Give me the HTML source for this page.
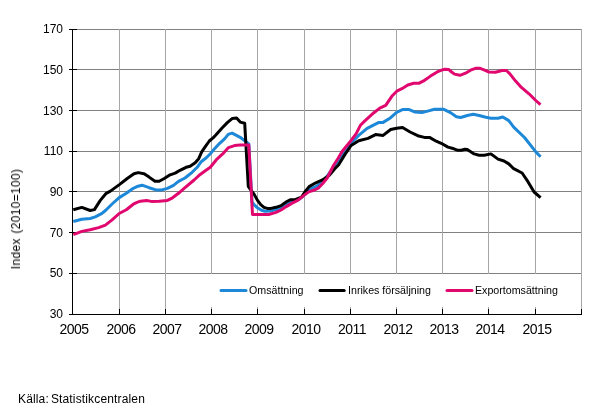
<!DOCTYPE html><html><head><meta charset="utf-8"><style>
html,body{margin:0;padding:0;background:#fff;}
#c{position:relative;width:605px;height:416px;overflow:hidden;background:#fff;font-family:"Liberation Sans",sans-serif;color:#000;}
.t{position:absolute;white-space:nowrap;line-height:1;will-change:transform;}
.yl{font-size:12px;width:40px;text-align:right;left:23px;}
.xl{font-size:14px;letter-spacing:-0.5px;width:60px;text-align:center;}
.lg{font-size:10.67px;}
</style></head><body><div id="c">
<svg width="605" height="416" viewBox="0 0 605 416" style="position:absolute;left:0;top:0">
<g shape-rendering="crispEdges" stroke="#808080" stroke-width="1" fill="none">
<line x1="72" y1="29.5" x2="582" y2="29.5"/>
<line x1="72" y1="69.5" x2="582" y2="69.5"/>
<line x1="72" y1="110.5" x2="582" y2="110.5"/>
<line x1="72" y1="151.5" x2="582" y2="151.5"/>
<line x1="72" y1="191.5" x2="582" y2="191.5"/>
<line x1="72" y1="232.5" x2="582" y2="232.5"/>
<line x1="72" y1="273.5" x2="582" y2="273.5"/>
<line stroke="#a6a6a8" x1="119.5" y1="29" x2="119.5" y2="314"/>
<line stroke="#a6a6a8" x1="165.5" y1="29" x2="165.5" y2="314"/>
<line stroke="#a6a6a8" x1="211.5" y1="29" x2="211.5" y2="314"/>
<line stroke="#a6a6a8" x1="257.5" y1="29" x2="257.5" y2="314"/>
<line stroke="#a6a6a8" x1="304.5" y1="29" x2="304.5" y2="314"/>
<line stroke="#a6a6a8" x1="350.5" y1="29" x2="350.5" y2="314"/>
<line stroke="#a6a6a8" x1="396.5" y1="29" x2="396.5" y2="314"/>
<line stroke="#a6a6a8" x1="442.5" y1="29" x2="442.5" y2="314"/>
<line stroke="#a6a6a8" x1="488.5" y1="29" x2="488.5" y2="314"/>
<line stroke="#a6a6a8" x1="535.5" y1="29" x2="535.5" y2="314"/>
<line stroke="#a6a6a8" x1="581.5" y1="29" x2="581.5" y2="314"/>
</g>
<rect x="200" y="274" width="372" height="33" fill="#fff" shape-rendering="crispEdges"/>
<g shape-rendering="crispEdges" stroke="#000" stroke-width="1" fill="none">
<line x1="72.5" y1="29" x2="72.5" y2="315"/>
<line x1="69" y1="314.5" x2="582" y2="314.5"/>
<line x1="69" y1="29.5" x2="77" y2="29.5"/>
<line x1="69" y1="69.5" x2="77" y2="69.5"/>
<line x1="69" y1="110.5" x2="77" y2="110.5"/>
<line x1="69" y1="151.5" x2="77" y2="151.5"/>
<line x1="69" y1="191.5" x2="77" y2="191.5"/>
<line x1="69" y1="232.5" x2="77" y2="232.5"/>
<line x1="69" y1="273.5" x2="77" y2="273.5"/>
<line x1="69" y1="314.5" x2="77" y2="314.5"/>
<line x1="72.5" y1="309" x2="72.5" y2="315"/>
<line x1="119.5" y1="309" x2="119.5" y2="315"/>
<line x1="165.5" y1="309" x2="165.5" y2="315"/>
<line x1="211.5" y1="309" x2="211.5" y2="315"/>
<line x1="257.5" y1="309" x2="257.5" y2="315"/>
<line x1="304.5" y1="309" x2="304.5" y2="315"/>
<line x1="350.5" y1="309" x2="350.5" y2="315"/>
<line x1="396.5" y1="309" x2="396.5" y2="315"/>
<line x1="442.5" y1="309" x2="442.5" y2="315"/>
<line x1="488.5" y1="309" x2="488.5" y2="315"/>
<line x1="535.5" y1="309" x2="535.5" y2="315"/>
<line x1="581.5" y1="309" x2="581.5" y2="315"/>
</g>
<g fill="none" stroke-width="3" stroke-linejoin="round" stroke-linecap="butt">
<polyline stroke="#1d88d8" points="73.3,221.5 81.8,219.2 90.2,218.5 95.3,216.9 102.0,213.4 106.0,210.0 112.1,204.0 119.2,197.6 126.3,193.2 133.3,188.3 138.0,186.2 142.0,185.2 149.1,187.7 155.9,189.9 161.8,189.9 167.4,188.4 173.5,185.4 178.5,181.4 185.0,178.0 186.9,176.5 192.1,172.3 197.2,167.3 201.2,161.7 206.3,157.7 210.3,153.7 214.3,149.1 219.4,143.6 224.8,138.6 228.2,134.4 232.1,133.1 240.2,137.3 248.8,143.9 252.0,201.8 254.2,204.9 257.8,208.0 261.5,210.2 265.1,211.3 270.2,211.1 276.0,209.5 281.1,207.6 286.2,204.9 290.5,202.6 299.0,199.3 305.7,193.8 310.2,189.2 314.5,187.2 318.9,184.8 324.2,180.3 335.0,165.1 343.6,153.1 351.1,143.0 358.7,135.4 367.1,128.3 378.9,122.4 383.1,122.4 390.7,117.7 396.6,112.3 402.5,109.6 409.2,109.6 415.2,112.1 421.9,112.6 428.6,110.9 434.5,109.3 443.8,109.3 450.5,112.6 456.4,116.8 460.6,117.5 467.3,115.5 473.2,114.3 479.1,115.5 485.9,117.3 490.9,118.2 498.0,118.2 502.8,117.0 508.8,120.6 513.7,127.1 524.5,137.5 535.8,151.9 540.6,156.7"/>
<polyline stroke="#000000" points="73.3,209.7 81.8,207.4 90.2,210.5 94.4,209.6 100.3,200.4 106.2,193.3 110.4,191.1 119.7,184.4 127.2,178.5 134.0,173.8 138.2,172.6 144.1,173.8 149.1,177.1 155.0,181.3 159.2,181.3 164.3,178.5 170.1,174.8 175.2,173.1 180.0,170.3 186.1,167.3 190.1,166.3 195.2,162.7 198.7,158.7 201.7,151.8 205.3,146.6 209.3,141.0 213.3,137.6 215.6,135.3 222.3,127.7 227.3,122.6 232.4,118.4 236.6,118.1 240.2,122.1 244.7,123.2 248.3,186.3 250.7,189.8 254.2,194.4 257.5,200.4 260.7,204.7 264.0,207.4 267.3,208.4 270.9,208.4 276.0,207.3 281.1,205.6 284.0,203.4 286.9,201.5 290.2,199.8 295.2,199.7 301.5,197.1 304.9,192.0 309.1,186.6 315.8,182.8 322.5,179.9 329.3,175.2 335.0,168.5 338.5,165.0 345.3,153.9 351.1,145.5 358.7,140.8 368.0,138.4 375.6,134.6 383.1,135.4 390.7,129.5 396.6,128.3 402.5,127.5 410.1,132.0 417.7,135.7 424.4,137.4 429.5,137.4 436.2,141.2 441.2,143.3 448.0,147.1 453.9,148.8 457.2,150.2 461.4,150.2 464.8,149.2 467.3,149.5 474.1,153.9 479.1,155.2 484.2,155.2 490.9,153.9 498.0,159.1 504.0,161.0 508.8,163.9 513.7,168.7 522.1,173.0 528.1,181.9 534.1,192.0 540.6,197.6"/>
<polyline stroke="#e0086f" points="73.3,234.6 81.8,231.4 90.2,229.8 98.6,227.6 105.4,225.1 112.1,219.9 119.2,213.5 126.3,209.7 133.3,204.2 137.0,202.4 140.4,201.2 146.5,200.5 151.3,201.4 159.3,201.3 167.4,200.4 172.5,197.8 178.5,193.3 185.0,187.7 194.1,180.0 200.2,174.4 205.3,170.8 210.3,167.3 216.4,159.7 222.4,154.2 228.5,147.6 234.5,145.6 240.0,145.1 248.8,144.9 252.5,214.5 268.7,214.5 276.0,212.4 281.1,210.0 286.2,206.6 291.3,203.6 298.5,199.8 303.6,195.6 308.7,191.9 314.5,190.0 318.2,188.2 322.5,183.8 327.2,178.0 333.5,165.5 338.0,158.5 341.9,151.8 351.1,140.5 356.2,133.7 360.4,125.3 364.6,121.1 373.9,112.7 379.8,108.1 385.7,105.4 391.8,96.3 396.8,91.2 401.9,88.7 407.8,85.0 413.7,83.3 418.7,83.3 424.6,80.3 430.5,76.1 437.2,71.9 441.5,70.1 444.8,69.3 448.6,69.4 451.6,72.0 454.5,74.1 460.0,75.3 465.5,73.2 470.5,70.2 475.5,68.3 479.5,68.2 484.0,69.9 489.0,72.0 495.4,72.2 502.1,70.5 506.3,70.5 509.7,73.6 515.6,81.1 521.4,87.4 529.0,93.8 535.8,100.5 540.5,104.7"/>
<line stroke-linecap="round" stroke="#1d88d8" x1="221" y1="290.5" x2="246" y2="290.5"/>
<line stroke-linecap="round" stroke="#000" x1="320" y1="290.5" x2="344.2" y2="290.5"/>
<line stroke-linecap="round" stroke="#e0086f" x1="447" y1="290.5" x2="472" y2="290.5"/>
</g>
</svg>
<div class="t yl" style="top:23px">170</div>
<div class="t yl" style="top:64px">150</div>
<div class="t yl" style="top:105px">130</div>
<div class="t yl" style="top:145px">110</div>
<div class="t yl" style="top:186px">90</div>
<div class="t yl" style="top:227px">70</div>
<div class="t yl" style="top:267px">50</div>
<div class="t yl" style="top:308px">30</div>
<div class="t xl" style="left:44px;top:322px">2005</div>
<div class="t xl" style="left:91px;top:322px">2006</div>
<div class="t xl" style="left:137px;top:322px">2007</div>
<div class="t xl" style="left:183px;top:322px">2008</div>
<div class="t xl" style="left:229px;top:322px">2009</div>
<div class="t xl" style="left:276px;top:322px">2010</div>
<div class="t xl" style="left:322px;top:322px">2011</div>
<div class="t xl" style="left:368px;top:322px">2012</div>
<div class="t xl" style="left:414px;top:322px">2013</div>
<div class="t xl" style="left:460px;top:322px">2014</div>
<div class="t xl" style="left:507px;top:322px">2015</div>
<div class="t lg" style="left:249px;top:285px">Omsättning</div>
<div class="t lg" style="left:348px;top:285px">Inrikes försäljning</div>
<div class="t lg" style="left:475px;top:285px">Exportomsättning</div>
<div class="t" style="font-size:12px;letter-spacing:0.15px;word-spacing:-1.5px;left:17.5px;top:393px">Källa: Statistikcentralen</div>
<div class="t" style="font-size:12px;letter-spacing:0.33px;word-spacing:1px;left:15.5px;top:219px;transform:translate(-50%,-50%) rotate(-90deg);transform-origin:center;">Index (2010=100)</div>
</div></body></html>
